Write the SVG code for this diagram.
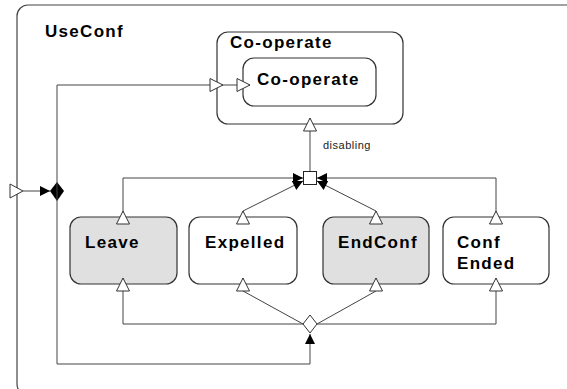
<svg xmlns="http://www.w3.org/2000/svg" width="567" height="389" viewBox="0 0 567 389">
<style>
.box{fill:#fff;stroke:#333;stroke-width:1.2}
.grey{fill:#e0e0e0}
.lbl{font-family:"Liberation Sans",Arial,sans-serif;font-weight:bold;font-size:17px;letter-spacing:1.3px;fill:#000}
.small{font-family:"Liberation Sans",Arial,sans-serif;font-size:11px;letter-spacing:0.5px;fill:#222}
.ln{fill:none;stroke:#444;stroke-width:1}
</style>
<defs>
<marker id="openEnd" markerUnits="userSpaceOnUse" markerWidth="15" markerHeight="15" viewBox="0 0 15 15" refX="14" refY="7.5" orient="auto">
<path d="M1,1 L14,7.5 L1,14 z" fill="#fff" stroke="#333" stroke-width="1"/>
</marker>
<marker id="openStart" markerUnits="userSpaceOnUse" markerWidth="15" markerHeight="15" viewBox="0 0 15 15" refX="1" refY="7.5" orient="auto">
<path d="M1,1 L14,7.5 L1,14 z" fill="#fff" stroke="#333" stroke-width="1"/>
</marker>
<marker id="fillEnd" markerUnits="userSpaceOnUse" markerWidth="11" markerHeight="11" viewBox="0 0 11 11" refX="10.5" refY="5.5" orient="auto">
<path d="M0.5,0.5 L10.5,5.5 L0.5,10.5 z" fill="#000"/>
</marker>
</defs>

<g id="UseConf">
<rect x="17" y="5" width="565" height="390" rx="11" fill="#fff" stroke="#444" stroke-width="1.2"/>
<text class="lbl" x="45" y="37">UseConf</text>
</g>

<g id="CoOperateOuter">
<rect class="box" x="217" y="32" width="186" height="92" rx="11"/>
<text class="lbl" x="230" y="48">Co-operate</text>
</g>
<g id="CoOperateInner">
<rect class="box" x="243" y="58" width="133" height="48" rx="11"/>
<text class="lbl" x="257" y="85">Co-operate</text>
</g>

<g id="Leave">
<rect class="box grey" x="70" y="217" width="107" height="67" rx="11"/>
<text class="lbl" x="85" y="248">Leave</text>
</g>
<g id="Expelled">
<rect class="box" x="189" y="217" width="108" height="67" rx="11"/>
<text class="lbl" x="205" y="248">Expelled</text>
</g>
<g id="EndConf">
<rect class="box grey" x="323" y="217" width="106" height="67" rx="11"/>
<text class="lbl" x="338" y="248">EndConf</text>
</g>
<g id="ConfEnded">
<rect class="box" x="443" y="217" width="106" height="67" rx="11"/>
<text class="lbl" x="457" y="248">Conf</text>
<text class="lbl" x="457" y="269">Ended</text>
</g>

<g id="disablingJoin">
<rect x="303.5" y="171.5" width="13" height="13" fill="#fff" stroke="#222" stroke-width="1"/>
</g>
<g id="choiceBottom">
<polygon points="303,324 310,315 317,324 310,333" fill="#fff" stroke="#333" stroke-width="1"/>
</g>
<g id="choiceLeft">
<polygon points="50,191 57,182 64,191 57,201" fill="#000"/>
</g>

<g id="connectors">
<polygon points="10,184 23,191 10,198" fill="#fff" stroke="#333" stroke-width="1"/>
<path class="ln" d="M23,191 L50,191" marker-end="url(#fillEnd)"/>
<path class="ln" d="M57,191 L57,85 L223,85" marker-end="url(#openEnd)"/>
<path class="ln" d="M223,85 L250,85" marker-end="url(#openEnd)"/>
<path class="ln" d="M57,191 L57,364 L310,364 L310,334" marker-end="url(#fillEnd)"/>

<path class="ln" d="M303,324 L123,324 L123,278" marker-end="url(#openEnd)"/>
<path class="ln" d="M303,324 L243,291 L243,278" marker-end="url(#openEnd)"/>
<path class="ln" d="M317,324 L376,291 L376,278" marker-end="url(#openEnd)"/>
<path class="ln" d="M317,324 L496,324 L496,278" marker-end="url(#openEnd)"/>

<path class="ln" d="M123,224 L123,178 L303,178" marker-start="url(#openStart)" marker-end="url(#fillEnd)"/>
<path class="ln" d="M243,224 L243,211 L303,181" marker-start="url(#openStart)" marker-end="url(#fillEnd)"/>
<path class="ln" d="M376,224 L376,211 L317,181" marker-start="url(#openStart)" marker-end="url(#fillEnd)"/>
<path class="ln" d="M496,224 L496,178 L317,178" marker-start="url(#openStart)" marker-end="url(#fillEnd)"/>

<path class="ln" d="M310,171 L310,118" marker-end="url(#openEnd)"/>
<text class="small" x="323" y="149">disabling</text>
</g>
</svg>
